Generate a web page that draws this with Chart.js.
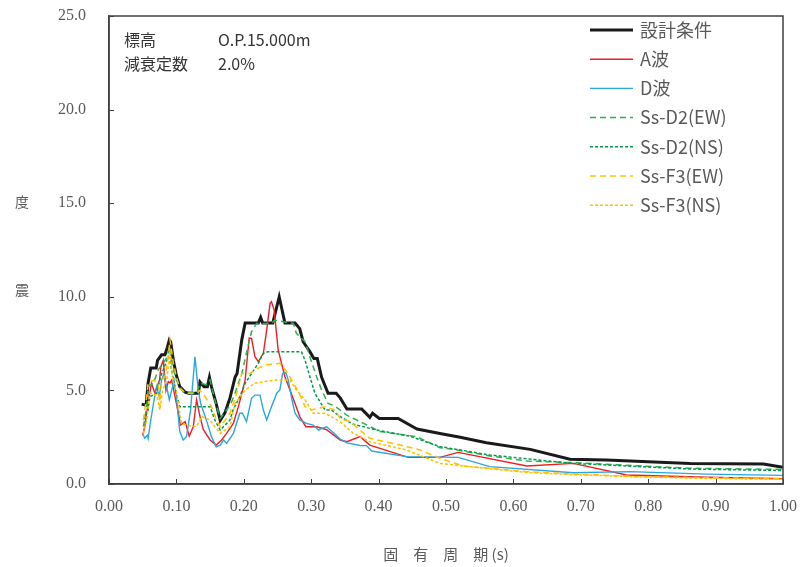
<!DOCTYPE html>
<html>
<head>
<meta charset="utf-8">
<script src="https://cdn.jsdelivr.net/npm/chart.js@4/dist/chart.umd.min.js"></script>
<style>
  body { margin: 0; background: #fff; }
  #wrap { width: 800px; height: 567px; position: relative; }
</style>
</head>
<body>
<div id="wrap"><canvas id="spectrumChart"></canvas></div>
<script>
// 設計条件
const designT = [0.0485,0.055,0.058,0.062,0.07,0.072,0.078,0.083,0.0865,0.0895,0.0915,0.0955,0.1,0.105,0.113,0.118,0.1325,0.135,0.141,0.146,0.149,0.152,0.159,0.165,0.172,0.1795,0.187,0.19,0.197,0.202,0.2215,0.225,0.228,0.243,0.2525,0.261,0.276,0.283,0.288,0.298,0.304,0.309,0.3155,0.325,0.337,0.343,0.353,0.375,0.387,0.391,0.401,0.429,0.457,0.491,0.521,0.56,0.625,0.684,0.738,0.862,0.971,1.0];
const designV = [4.27,4.2,5.4,6.2,6.2,6.6,6.9,6.9,7.3,7.7,7.6,6.6,5.8,5.2,4.9,4.85,4.85,5.45,5.2,5.2,5.7,5.2,4.3,3.4,3.8,4.6,5.7,5.9,7.7,8.6,8.6,8.9,8.6,8.6,10.0,8.6,8.6,8.3,7.6,7.07,6.7,6.7,5.7,4.85,4.85,4.6,4.0,4.0,3.56,3.78,3.5,3.5,2.94,2.7,2.5,2.2,1.85,1.32,1.28,1.1,1.07,0.89];

// A波
const waveAT = [0.05,0.053,0.058,0.063,0.068,0.075,0.077,0.0805,0.0845,0.088,0.0905,0.093,0.098,0.103,0.106,0.113,0.119,0.125,0.13,0.135,0.14,0.15,0.159,0.167,0.1745,0.1845,0.192,0.202,0.208,0.2115,0.2165,0.2215,0.229,0.234,0.239,0.241,0.245,0.251,0.261,0.2685,0.276,0.283,0.292,0.308,0.323,0.343,0.353,0.3725,0.387,0.444,0.491,0.518,0.62,0.689,0.768,0.887,1.0];
const waveAV = [2.6,3.06,4.3,5.4,4.86,5.55,6.27,6.6,5.0,5.47,5.4,5.55,4.66,3.78,3.15,3.33,2.56,3.06,4.5,3.6,2.9,2.35,2.08,2.35,2.7,3.24,4.13,5.55,7.8,7.78,6.8,6.53,6.98,8.23,9.65,9.74,9.3,7.16,5.73,5.02,4.3,3.6,3.06,3.06,2.9,2.35,2.26,2.53,2.08,1.42,1.42,1.69,0.96,1.1,0.48,0.36,0.28];

// D波
const waveDT = [0.051,0.053,0.057,0.058,0.062,0.066,0.0705,0.0745,0.078,0.0815,0.0855,0.0895,0.093,0.0965,0.1,0.105,0.11,0.115,0.121,0.1275,0.1325,0.136,0.141,0.146,0.152,0.159,0.165,0.17,0.1745,0.1845,0.194,0.198,0.204,0.2115,0.2165,0.224,0.229,0.234,0.241,0.249,0.2535,0.2575,0.2625,0.266,0.271,0.276,0.283,0.293,0.303,0.311,0.316,0.323,0.331,0.343,0.353,0.3725,0.382,0.39,0.4415,0.518,0.565,0.689,0.773,0.887,1.0];
const waveDV = [2.6,2.44,2.6,2.44,3.42,4.3,5.2,4.66,5.55,5.9,5.2,4.5,5.0,5.55,4.66,2.8,2.35,2.53,3.95,6.8,5.0,4.3,3.78,3.24,2.53,1.99,2.08,2.35,2.17,2.7,3.78,3.78,3.33,4.58,4.75,4.75,3.95,3.42,4.13,4.85,5.02,5.9,5.95,5.55,4.58,3.78,3.42,3.24,3.15,2.88,2.97,3.06,2.8,2.4,2.2,2.06,2.05,1.76,1.46,1.42,0.93,0.6,0.66,0.53,0.46];

// Ss-D2(EW)
const d2ewT = [0.051,0.056,0.058,0.066,0.073,0.0805,0.0865,0.0895,0.093,0.1,0.11,0.13,0.135,0.145,0.15,0.157,0.165,0.1745,0.181,0.187,0.197,0.204,0.2115,0.219,0.241,0.246,0.2585,0.2735,0.278,0.291,0.298,0.308,0.3155,0.325,0.333,0.343,0.3527,0.3675,0.402,0.4565,0.491,0.516,0.565,0.62,0.689,0.763,0.862,1.0];
const d2ewV = [3.06,4.13,5.2,5.38,6.1,6.45,6.8,7.33,6.45,5.55,4.93,4.85,5.38,5.3,5.55,4.5,3.5,3.95,4.3,4.85,5.9,7.0,8.14,8.58,8.58,8.76,8.67,8.58,8.05,7.6,6.8,5.73,5.02,4.3,4.2,3.95,3.68,3.42,2.8,2.53,1.94,1.82,1.5,1.23,1.14,1.01,0.84,0.78];

// Ss-D2(NS)
const d2nsT = [0.051,0.058,0.0605,0.0705,0.0765,0.0805,0.088,0.0905,0.0955,0.1,0.105,0.15,0.157,0.165,0.1795,0.184,0.194,0.202,0.2115,0.2215,0.229,0.236,0.2855,0.291,0.298,0.3055,0.3205,0.33,0.343,0.362,0.395,0.4465,0.491,0.565,0.689,0.862,1.0];
const d2nsV = [3.42,3.95,4.66,4.85,5.73,6.1,6.8,6.6,5.55,4.85,4.13,4.13,3.42,2.88,3.42,3.95,4.66,5.38,5.9,6.45,6.98,7.07,7.07,6.6,5.73,4.85,3.95,3.95,3.6,3.2,2.9,2.55,2.0,1.55,1.1,0.8,0.72];

// Ss-F3(EW)
const f3ewT = [0.051,0.056,0.058,0.066,0.073,0.0755,0.078,0.083,0.088,0.0905,0.0955,0.1,0.105,0.115,0.13,0.135,0.1425,0.152,0.1595,0.165,0.1795,0.1895,0.197,0.209,0.2165,0.2315,0.2535,0.2635,0.271,0.281,0.291,0.3005,0.3205,0.3355,0.343,0.3576,0.3724,0.387,0.432,0.4614,0.491,0.5257,0.565,0.62,0.689,0.788,0.887,1.0];
const f3ewV = [3.42,4.66,5.38,5.55,5.38,4.13,5.55,5.73,6.8,7.7,6.45,5.73,5.1,4.85,4.85,5.0,4.66,4.13,3.42,3.06,3.78,4.85,5.9,5.9,6.1,6.36,6.45,6.0,5.55,4.93,4.13,3.95,4.13,3.95,3.5,3.33,2.88,2.44,2.08,1.82,1.37,0.96,0.84,0.66,0.53,0.39,0.34,0.28];

// Ss-F3(NS)
const f3nsT = [0.051,0.056,0.0605,0.0705,0.0755,0.0795,0.0855,0.0905,0.0945,0.1,0.1075,0.115,0.13,0.1375,0.15,0.157,0.165,0.1795,0.187,0.202,0.2165,0.2315,0.2463,0.2685,0.278,0.291,0.303,0.3205,0.343,0.3625,0.387,0.4415,0.491,0.5257,0.62,0.689,0.788,0.887,1.0];
const f3nsV = [2.7,3.42,4.85,4.75,3.95,5.0,5.55,7.0,5.55,5.0,3.24,3.15,3.06,3.6,3.42,3.06,2.7,3.06,4.3,5.02,5.38,5.47,5.55,5.55,5.02,4.5,3.78,3.78,3.33,2.7,2.26,1.82,1.1,0.96,0.62,0.5,0.38,0.3,0.25];

const seriesNames = ['設計条件', 'A波', 'D波', 'Ss-D2(EW)', 'Ss-D2(NS)', 'Ss-F3(EW)', 'Ss-F3(NS)'];
const xTicks = [0, 0.1, 0.2, 0.3, 0.4, 0.5, 0.6, 0.7, 0.8, 0.9, 1.0];
const yTicks = [0, 5, 10, 15, 20, 25];

function toPoints(ts, vs) {
    return ts.map((t, i) => ({ x: t, y: vs[i] }));
}

const axisColor = '#404040';
const labelColor = '#595959';

const frameAndLabels = {
    id: 'frameAndLabels',
    afterDraw(chart) {
        const ctx = chart.ctx;
        const area = chart.chartArea;
        const xs = chart.scales.x;
        const ys = chart.scales.y;
        ctx.save();

        // plot frame
        ctx.strokeStyle = axisColor;
        ctx.lineWidth = 1.5;
        ctx.strokeRect(area.left, area.top, area.right - area.left, area.bottom - area.top);

        // inner tick marks
        ctx.lineWidth = 1;
        ctx.beginPath();
        xTicks.forEach(v => {
            const px = Math.round(xs.getPixelForValue(v)) + 0.5;
            ctx.moveTo(px, area.bottom);
            ctx.lineTo(px, area.bottom - 5);
        });
        yTicks.forEach(v => {
            const py = Math.round(ys.getPixelForValue(v)) + 0.5;
            ctx.moveTo(area.left, py);
            ctx.lineTo(area.left + 5, py);
        });
        ctx.stroke();

        // y title (stacked characters)
        ctx.fillStyle = labelColor;
        ctx.font = '14px "Noto Sans CJK JP"';
        ctx.textAlign = 'center';
        ctx.textBaseline = 'middle';
        ctx.fillText('度', 22, 202);
        ctx.fillText('震', 22, 290);

        // annotation
        ctx.fillStyle = '#333333';
        ctx.font = '16px "Noto Sans CJK JP"';
        ctx.textAlign = 'left';
        ctx.fillText('標高', 124, 40);
        ctx.fillText('O.P.15.000m', 218, 40);
        ctx.fillText('減衰定数', 124, 64);
        ctx.fillText('2.0%', 218, 64);

        // legend
        ctx.font = '18px "Noto Sans CJK JP"';
        chart.data.datasets.forEach((ds, i) => {
            const y = 30 + i * 29.2;
            ctx.strokeStyle = ds.borderColor;
            ctx.lineWidth = ds.borderWidth;
            ctx.setLineDash(ds.borderDash || []);
            ctx.beginPath();
            ctx.moveTo(590, y);
            ctx.lineTo(633, y);
            ctx.stroke();
            ctx.setLineDash([]);
            ctx.fillStyle = labelColor;
            ctx.fillText(ds.label, 640, y);
        });
        ctx.restore();
    }
};

function drawChart() {
    const ctx = document.getElementById('spectrumChart').getContext('2d');
    const common = { pointRadius: 0, tension: 0, fill: false };
    new Chart(ctx, {
        type: 'line',
        data: {
            datasets: [
                { ...common, label: seriesNames[6], data: toPoints(f3nsT, f3nsV), borderColor: '#FFC000', borderWidth: 1.5, borderDash: [3, 2] },
                { ...common, label: seriesNames[5], data: toPoints(f3ewT, f3ewV), borderColor: '#FFC000', borderWidth: 1.5, borderDash: [6, 4] },
                { ...common, label: seriesNames[4], data: toPoints(d2nsT, d2nsV), borderColor: '#00994C', borderWidth: 1.5, borderDash: [3, 2] },
                { ...common, label: seriesNames[3], data: toPoints(d2ewT, d2ewV), borderColor: '#2EB150', borderWidth: 1.5, borderDash: [6, 4] },
                { ...common, label: seriesNames[2], data: toPoints(waveDT, waveDV), borderColor: '#2AA7DF', borderWidth: 1.4 },
                { ...common, label: seriesNames[1], data: toPoints(waveAT, waveAV), borderColor: '#EE1C25', borderWidth: 1.4 },
                { ...common, label: seriesNames[0], data: toPoints(designT, designV), borderColor: '#1A1A1A', borderWidth: 3 }
            ].reverse().map((ds, i) => ({ ...ds, order: -i }))
        },
        options: {
            responsive: true,
            maintainAspectRatio: false,
            animation: false,
            layout: { padding: { top: 16, right: 17, left: 0, bottom: 0 } },
            plugins: {
                legend: { display: false },
                tooltip: { enabled: false }
            },
            scales: {
                x: {
                    type: 'linear',
                    min: 0,
                    max: 1,
                    afterFit: s => {
                        s.height = 83;
                        s.paddingLeft = 0;
                        s.paddingRight = 0;
                    },
                    afterBuildTicks: s => { s.ticks = xTicks.map(v => ({ value: v })); },
                    grid: { display: false, drawTicks: false },
                    border: { display: true, color: axisColor, width: 1.5 },
                    ticks: {
                        padding: 13,
                        color: labelColor,
                        font: { family: '"Liberation Serif"', size: 16 },
                        maxRotation: 0,
                        callback: v => v.toFixed(2)
                    },
                    title: {
                        display: true,
                        text: '固　有　周　期 (s)',
                        color: labelColor,
                        font: { family: '"Noto Sans CJK JP"', size: 15 },
                        padding: { top: 24 }
                    }
                },
                y: {
                    min: 0,
                    max: 25,
                    afterFit: s => {
                        s.width = 109;
                        s.paddingTop = 0;
                        s.paddingBottom = 0;
                    },
                    afterBuildTicks: s => { s.ticks = yTicks.map(v => ({ value: v })); },
                    grid: { display: false, drawTicks: false },
                    border: { display: true, color: axisColor, width: 1.5 },
                    ticks: {
                        padding: 23,
                        color: labelColor,
                        font: { family: '"Liberation Serif"', size: 16 },
                        callback: v => v.toFixed(1)
                    }
                }
            }
        },
        plugins: [frameAndLabels]
    });
}

window.onload = drawChart;
</script>
</body>
</html>
